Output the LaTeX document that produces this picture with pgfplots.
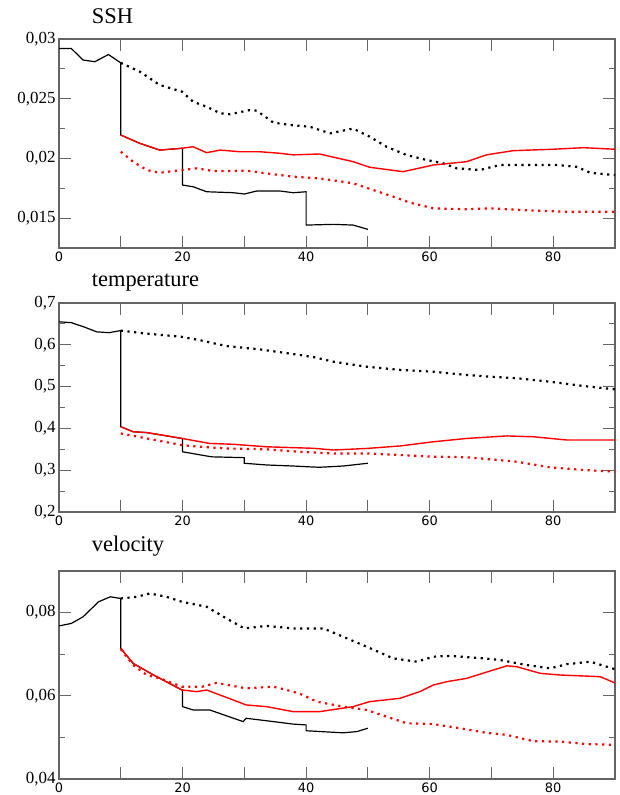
\documentclass[border=0pt]{standalone}
\usepackage{pgfplots}
\pgfplotsset{compat=1.18}
\usepackage{fontspec}
\setmainfont{Liberation Serif}
\newfontfamily\xfont{DejaVu Sans}
\definecolor{axisgray}{RGB}{100,100,100}
\pgfplotsset{
  panel/.style={
    scale only axis, width=556bp, height=209bp,
    anchor=north west,
    xmin=0, xmax=90,
    xtick={0,10,...,90},
    xticklabels={0,,20,,40,,60,,80,},
    axis line style={draw=axisgray, line width=1.2bp},
    tick style={draw=axisgray, line width=1bp},
    major tick length=12bp, minor tick length=6bp,
    minor y tick num=1,
    tick align=inside,
    xtick pos=both, ytick pos=both,
    xticklabel style={font=\xfont\fontsize{13}{13}\selectfont},
    yticklabel style={font=\fontsize{17}{17}\selectfont},
    scaled y ticks=false,
  },
  bsol/.style={black, line width=1.2bp},
  rsol/.style={red, line width=1.4bp},
  bdot/.style={black, line width=2.2bp, dash pattern=on 2.2bp off 4.5bp},
  rdot/.style={red, line width=2.2bp, dash pattern=on 2.2bp off 4.5bp},
}
\begin{document}
\begin{tikzpicture}
\useasboundingbox (0,0) rectangle (620bp,-795bp);

% ---------- SSH ----------
\node[anchor=base west, font=\fontsize{22.5}{27}\selectfont, inner sep=0] at (91.7bp,-23.3bp) {SSH};
\begin{axis}[panel, at={(59bp,-39bp)},
  ymin=0.0125, ymax=0.03,
  ytick={0.015,0.02,0.025,0.03},
  yticklabels={{0,015},{0,02},{0,025},{0,03}}]
\addplot[bsol] coordinates {(0,0.0292) (2,0.0292) (3.9,0.02824) (5.8,0.0281) (8,0.0287) (10,0.0280) (10,0.02196) (13.1,0.02126) (16.3,0.0207) (19.9,0.02085) (20,0.02085) (20,0.01777) (21.7,0.01763) (23.9,0.01721) (28.2,0.01713) (30,0.01702) (32,0.01727) (35.8,0.01727) (37.9,0.01713) (40,0.01721) (40,0.01442) (44.4,0.01448) (47.6,0.01442) (50,0.01406)};
\addplot[bdot] coordinates {(10,0.0280) (13.1,0.02726) (16.3,0.02615) (19.9,0.02559) (21.7,0.02475) (23.9,0.02433) (26.1,0.02378) (27.7,0.0237) (30.9,0.02405) (32,0.0240) (34.7,0.0230) (37.4,0.0228) (40.6,0.02265) (43.9,0.0221) (47.6,0.0225) (50.3,0.02182) (53,0.02098) (56.3,0.02028) (59.5,0.01987) (62.2,0.01959) (64.4,0.01917) (68.1,0.01903) (71.4,0.01945) (75.7,0.01945) (80.6,0.01945) (83.8,0.0193) (86,0.0188) (90,0.0186)};
\addplot[rsol] coordinates {(10,0.02196) (13.1,0.02126) (16.3,0.0207) (19.9,0.02085) (21.7,0.02098) (23.9,0.02048) (26.1,0.0207) (29.3,0.02056) (32.5,0.02056) (35.8,0.02043) (37.9,0.0203) (42.2,0.02037) (47.6,0.01973) (50.3,0.01926) (55.7,0.01889) (60.6,0.01945) (66,0.01973) (69.2,0.0203) (73.5,0.02065) (80,0.02077) (84.9,0.0209) (90,0.02077)};
\addplot[rdot] coordinates {(10,0.02056) (12,0.01973) (14.2,0.01903) (16.3,0.0188) (19.9,0.01903) (22.3,0.01917) (25,0.01894) (30.4,0.01897) (33.6,0.01875) (37.9,0.01847) (42.2,0.01833) (47.6,0.01792) (50.9,0.01735) (54.1,0.0168) (56.8,0.0163) (60.6,0.01582) (66,0.01574) (69.8,0.01582) (76.8,0.01563) (82.2,0.01554) (90,0.01554)};
\end{axis}

% ---------- temperature ----------
\node[anchor=base west, font=\fontsize{22.5}{27}\selectfont, inner sep=0] at (91.7bp,-286.7bp) {temperature};
\begin{axis}[panel, at={(59bp,-303bp)},
  ymin=0.2, ymax=0.7,
  ytick={0.2,0.3,0.4,0.5,0.6,0.7},
  yticklabels={{0,2},{0,3},{0,4},{0,5},{0,6},{0,7}}]
\addplot[bsol] coordinates {(0,0.655) (2,0.653) (4,0.643) (6.1,0.631) (8.1,0.629) (10,0.634) (10,0.404) (12,0.392) (14.2,0.390) (19.9,0.376) (20,0.376) (20,0.344) (24.7,0.332) (30,0.330) (30,0.3166) (33.6,0.3125) (37.9,0.310) (40.6,0.308) (42.2,0.307) (46,0.310) (50,0.3166)};
\addplot[bdot] coordinates {(10,0.634) (13.7,0.6275) (19.9,0.619) (22.8,0.611) (27.1,0.597) (32.5,0.589) (36.9,0.58) (39,0.5756) (41.4,0.570) (44.4,0.5596) (49.8,0.5476) (55.2,0.540) (60.6,0.5356) (66,0.5278) (69.8,0.5237) (74.1,0.520) (79.5,0.5117) (84.9,0.5014) (90,0.4935)};
\addplot[rsol] coordinates {(10,0.404) (12,0.392) (14.2,0.390) (19.9,0.376) (24.4,0.364) (28.2,0.362) (33.6,0.356) (41.2,0.3524) (44.4,0.3483) (49.8,0.352) (55.2,0.358) (60.6,0.368) (66,0.376) (72.5,0.382) (76.8,0.380) (82.2,0.3722) (90,0.3722)};
\addplot[rdot] coordinates {(10,0.388) (14.2,0.376) (19.9,0.360) (22.8,0.356) (27.1,0.352) (33.6,0.350) (39,0.344) (44.4,0.340) (49.8,0.340) (55.2,0.3364) (60.6,0.3323) (66,0.331) (69.8,0.326) (74.1,0.3203) (79.5,0.3068) (84.9,0.3005) (90,0.2965)};
\end{axis}

% ---------- velocity ----------
\node[anchor=base west, font=\fontsize{22.5}{27}\selectfont, inner sep=0] at (91.7bp,-551.7bp) {velocity};
\begin{axis}[panel, at={(59bp,-571bp)}, height=208bp,
  ymin=0.04, ymax=0.09,
  ytick={0.04,0.06,0.08},
  yticklabels={{0,04},{0,06},{0,08}}]
\addplot[bsol] coordinates {(0,0.0768) (2,0.0774) (3.9,0.0790) (6.4,0.0826) (8.3,0.0838) (10,0.0834) (10,0.0714) (12,0.0678) (15.3,0.065) (19.9,0.0614) (20,0.0614) (20,0.0574) (21.7,0.0566) (24.4,0.0566) (29.8,0.0538) (30.3,0.0546) (34.7,0.0538) (37.9,0.0532) (40,0.053) (40,0.0516) (46,0.0511) (48.2,0.0514) (50,0.0522)};
\addplot[bdot] coordinates {(10,0.0834) (12.6,0.0838) (14.7,0.0846) (17.4,0.0838) (19.9,0.0826) (23.9,0.0814) (27.1,0.0786) (30,0.0762) (33.6,0.0768) (37.9,0.0762) (42.8,0.0762) (46,0.0742) (49.8,0.0718) (54.1,0.069) (57.9,0.0682) (60.6,0.0694) (63.3,0.0696) (68.7,0.069) (71.4,0.0686) (75.7,0.0674) (79.5,0.0666) (82.2,0.0676) (86,0.0682) (90,0.0664)};
\addplot[rsol] coordinates {(10,0.0714) (12,0.0678) (15.3,0.065) (19.9,0.0614) (22.3,0.061) (23.9,0.0614) (28.2,0.059) (30.3,0.0578) (33.6,0.0574) (37.9,0.0562) (42.2,0.0562) (47.6,0.0574) (50.3,0.0586) (55.2,0.0594) (58.4,0.061) (60.6,0.0626) (62.8,0.0634) (66,0.0642) (70.3,0.0662) (72.5,0.0672) (74.1,0.067) (77.9,0.0654) (81.1,0.065) (87.6,0.0646) (90,0.0631)};
\addplot[rdot] coordinates {(10,0.0712) (12,0.0674) (14.2,0.065) (16.3,0.0642) (19.9,0.0622) (23.2,0.0622) (25.5,0.0631) (30.3,0.0618) (34.7,0.0622) (37.9,0.061) (39.5,0.0602) (41.7,0.0586) (46,0.0574) (49.8,0.0566) (53,0.055) (56.3,0.0534) (60.6,0.0532) (64.9,0.0522) (69.2,0.0511) (72.5,0.0506) (76.8,0.0491) (81.1,0.049) (85.4,0.0484) (90,0.0482)};
\end{axis}
\end{tikzpicture}
\end{document}
